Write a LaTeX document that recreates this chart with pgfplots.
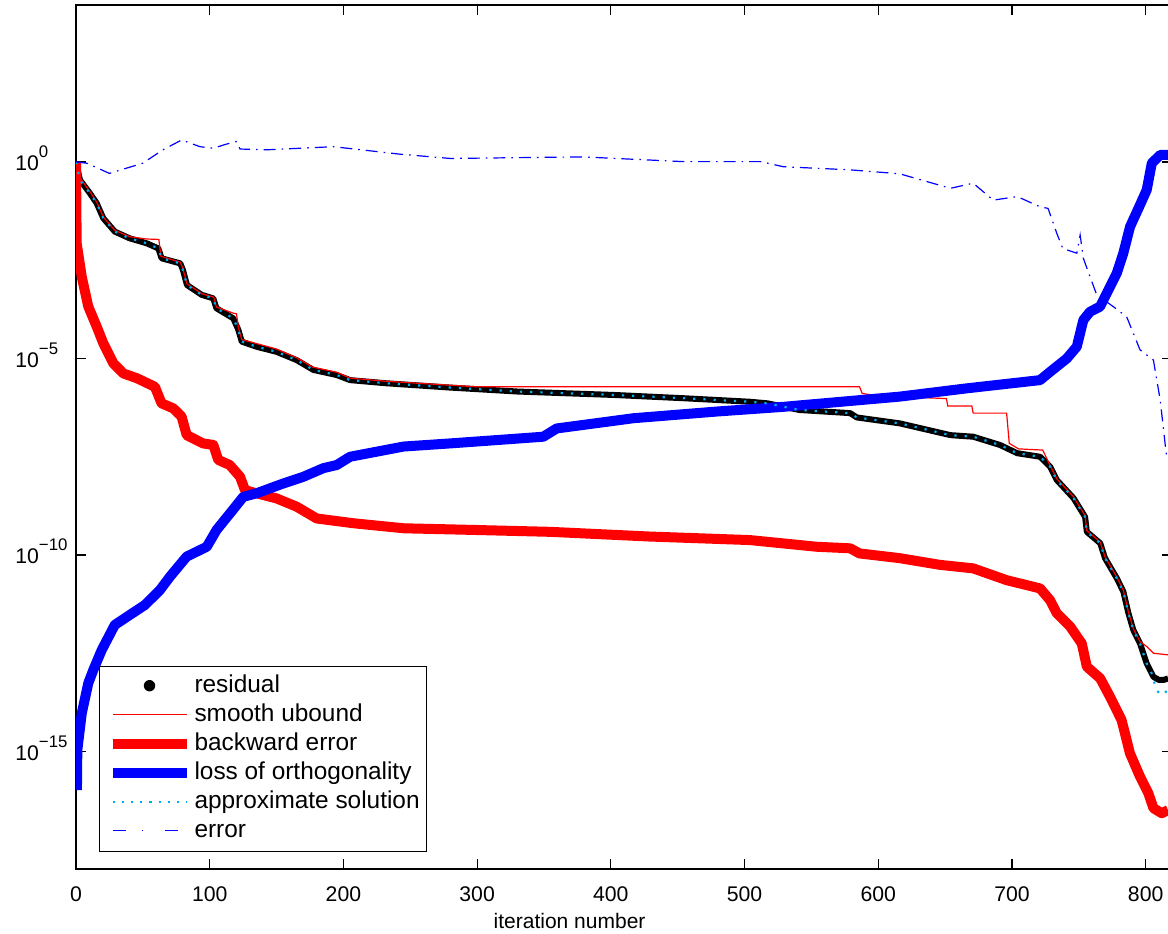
\documentclass[border=0pt]{standalone}
\usepackage{pgfplots}
\pgfplotsset{compat=1.18}
\usepackage{pgfplotstable}
\usepackage{fontspec}
\setmainfont{Liberation Sans}

\newcommand{\legline}[1]{\path (0pt,0.6pt); \draw[#1] (1.5pt,0.6pt) -- (38.5pt,0.6pt); \path (39pt,0.6pt);}
\newcommand{\supx}[1]{\raisebox{6.6pt}{\fontsize{8.4}{10}\selectfont #1}}

\pgfplotstableread{
x y
0 0
3 -0.46
10.5 -0.80
15.5 -1.05
20.4 -1.43
29 -1.77
40 -1.94
53 -2.07
61.6 -2.20
64 -2.45
78 -2.58
80 -2.75
83 -3.13
94 -3.38
102.7 -3.47
105 -3.72
117.7 -3.98
121.4 -4.27
124 -4.57
135 -4.70
150 -4.83
165 -5.04
177.5 -5.29
195 -5.42
205 -5.55
232 -5.63
280 -5.74
330 -5.84
404 -5.93
454 -6.01
504 -6.10
517 -6.14
541 -6.31
579 -6.39
584 -6.50
616 -6.65
654 -6.95
671 -6.99
691 -7.20
704 -7.41
721 -7.50
728.5 -7.75
733.5 -8.09
746 -8.55
754.7 -9.03
756 -9.41
766 -9.70
769.6 -10.08
778.4 -10.59
783.3 -10.93
787.1 -11.48
790.8 -11.91
795.8 -12.25
800.8 -12.76
805.8 -13.10
810 -13.18
813.3 -13.18
816.8 -13.14
}\tres

\pgfplotstableread{
x y
0 0
3 -0.40
10.5 -0.76
15.5 -1.02
20.4 -1.40
29 -1.74
40 -1.90
53 -1.96
62 -1.97
63.5 -2.40
78 -2.55
80 -2.72
83 -3.10
94 -3.35
103 -3.44
105 -3.69
118 -3.85
120 -3.86
121.5 -4.22
124 -4.52
135 -4.62
150 -4.76
165 -4.98
177 -5.22
195 -5.35
205 -5.50
232 -5.58
280 -5.68
300 -5.72
586 -5.72
588 -5.89
600 -5.95
651 -6.02
652 -6.21
670 -6.21
671 -6.39
696 -6.39
698 -7.16
705 -7.30
723 -7.33
728.5 -7.72
733.5 -8.06
746 -8.52
754.7 -9.00
756 -9.38
766 -9.67
769.6 -10.05
778.4 -10.56
783.3 -10.90
787.1 -11.45
790.8 -11.88
795.8 -12.20
800.8 -12.33
805.8 -12.50
816.8 -12.54
}\tub

\pgfplotstableread{
x y
0 0
0.5 -2.07
4.3 -2.92
9.2 -3.68
15.5 -4.19
20.4 -4.61
27.9 -5.12
35.4 -5.38
45.4 -5.50
59 -5.72
64 -6.14
72.8 -6.27
79 -6.48
82.8 -6.95
95 -7.16
102.7 -7.20
106.4 -7.58
115 -7.71
122.7 -8.01
126.4 -8.35
135 -8.43
150 -8.56
165 -8.77
180 -9.07
207 -9.19
245 -9.32
295 -9.36
354.5 -9.41
429 -9.53
504 -9.62
554 -9.79
579 -9.83
586 -9.96
616 -10.08
646 -10.25
671 -10.34
696 -10.64
721 -10.85
728.5 -11.15
733.5 -11.48
743.5 -11.82
752.2 -12.25
756 -12.84
766 -13.14
773.4 -13.61
782 -14.20
788.3 -15.05
795.8 -15.64
802 -16.06
805.8 -16.44
812 -16.57
816.8 -16.49
}\tbe

\pgfplotstableread{
x y
0.7 -15.98
1 -14.96
4.3 -14.03
9.2 -13.26
12.9 -12.93
19.2 -12.42
29 -11.78
40 -11.53
51.6 -11.27
62.8 -10.89
70.3 -10.55
82.8 -10.04
97.8 -9.79
105.2 -9.36
115.2 -8.94
125.1 -8.52
135 -8.43
155 -8.18
170 -8.01
185 -7.79
195 -7.71
205 -7.50
225 -7.37
245 -7.24
280 -7.16
317 -7.07
349.5 -6.99
359.5 -6.78
416.8 -6.52
479 -6.35
529 -6.23
616 -5.97
666 -5.76
721 -5.55
728.5 -5.34
741 -5.00
748.5 -4.70
753.4 -4.02
758.4 -3.81
765.9 -3.68
770.9 -3.34
778.4 -2.83
783.3 -2.32
788.3 -1.65
795.8 -1.09
800.8 -0.71
804.6 -0.03
810.9 0.18
816.8 0.18
}\torth

\pgfplotstableread{
x y
0 0
3 -0.46
10.5 -0.80
15.5 -1.05
20.4 -1.43
29 -1.77
40 -1.94
53 -2.07
61.6 -2.20
64 -2.45
78 -2.58
80 -2.75
83 -3.13
94 -3.38
102.7 -3.47
105 -3.72
117.7 -3.98
121.4 -4.27
124 -4.57
135 -4.70
150 -4.83
165 -5.04
177.5 -5.29
195 -5.42
205 -5.55
232 -5.63
280 -5.74
330 -5.84
404 -5.93
454 -6.01
504 -6.10
517 -6.14
541 -6.31
579 -6.39
584 -6.50
616 -6.65
654 -6.95
671 -6.99
691 -7.20
704 -7.41
721 -7.50
728.5 -7.75
733.5 -8.09
746 -8.55
754.7 -9.03
756 -9.41
766 -9.70
769.6 -10.08
778.4 -10.59
783.3 -10.93
787.1 -11.48
790.8 -11.91
795.8 -12.25
800.8 -12.76
805.8 -13.10
807 -13.35
810.8 -13.56
816.8 -13.45
}\tapp

\pgfplotstableread{
x y
0 0
8 -0.03
25 -0.29
50 -0.03
65 0.31
79 0.56
92.7 0.39
102.7 0.35
112 0.45
120 0.52
122.7 0.33
142.6 0.31
192.5 0.39
242 0.20
280 0.09
379 0.13
454 0.01
512 0.01
529 -0.12
579 -0.20
616 -0.30
654 -0.67
671 -0.54
686 -0.97
704 -0.88
721 -1.14
727 -1.18
733.5 -1.81
738 -2.20
748.5 -2.32
751 -1.86
753.4 -2.45
758.4 -2.92
763.4 -3.38
775.8 -3.68
785.8 -3.94
795.8 -4.78
805.8 -5.04
810.9 -6.06
815.9 -7.58
}\terr

\begin{document}
\begin{tikzpicture}
\useasboundingbox (-38pt,-31.8pt) rectangle (546pt,434.7pt);
\clip (-38pt,-31.8pt) rectangle (546pt,434.7pt);
\begin{axis}[
  at={(0pt,0pt)}, anchor=south west,
  scale only axis, width=548.2pt, height=432.3pt,
  xmin=0, xmax=820,
  ymode=log, ymin=1e-18, ymax=1e4,
  xtick={0,100,...,800},
  ytick={1e-15,1e-10,1e-5,1},
  yticklabels={10\supx{−15},10\supx{−10},10\supx{−5},10\supx{0}},
  yminorticks=false, xminorticks=false,
  tick align=inside, major tick length=5pt,
  every tick/.style={black, line width=0.6pt},
  axis line style={line width=1pt},
  /pgf/number format/assume math mode=true,
  tick label style={font=\fontsize{10.6}{12}\selectfont},
  xticklabel style={anchor=base, yshift=-16pt},
  yticklabel style={anchor=base west, inner xsep=0pt, xshift=-30.5pt, yshift=-4.4pt},
  xlabel={iteration number},
  xlabel style={font=\fontsize{10.5}{12}\selectfont, at={(rel axis cs:0.4502,0)}, anchor=base, yshift=-29.5pt},
  legend cell align=left,
  legend style={at={(0.021,0.0197)}, anchor=south west,
    font=\fontsize{12.2}{14.5}\selectfont, draw=black, line width=0.5pt, fill=white,
    inner xsep=2.5pt, inner ysep=3pt, row sep=0.5pt,
    nodes={inner sep=1pt, text height=9pt, text depth=3pt}},
]
\addplot[black, line width=3pt, line join=round,
  legend image code/.code={\path (0pt,0.6pt); \fill[black] (20pt,0.6pt) circle (1.4pt); \path (39pt,0.6pt);}]
  table[x=x, y expr={10^(\thisrow{y})}] {\tres};
\addlegendentry{residual}
\addplot[red, line width=0.6pt,
  legend image code/.code={\legline{red, line width=0.6pt}}]
  table[x=x, y expr={10^(\thisrow{y})}] {\tub};
\addlegendentry{smooth ubound}
\addplot[red, line width=5pt, line join=round,
  legend image code/.code={\legline{red, line width=5pt}}]
  table[x=x, y expr={10^(\thisrow{y})}] {\tbe};
\addlegendentry{backward error}
\addplot[blue, line width=5pt, line join=round,
  legend image code/.code={\legline{blue, line width=5pt}}]
  table[x=x, y expr={10^(\thisrow{y})}] {\torth};
\addlegendentry{loss of orthogonality}
\addplot[cyan, line width=1.1pt, dash pattern=on 1.1pt off 4pt,
  legend image code/.code={\legline{cyan, line width=1.1pt, dash pattern=on 1.1pt off 3.5pt}}]
  table[x=x, y expr={10^(\thisrow{y})}] {\tapp};
\addlegendentry{approximate solution}
\addplot[blue, line width=0.6pt, dash pattern=on 6pt off 3pt on 0.8pt off 3pt,
  legend image code/.code={\legline{blue, line width=0.6pt, dash pattern=on 6.5pt off 8pt on 0.8pt off 11pt}}]
  table[x=x, y expr={10^(\thisrow{y})}] {\terr};
\addlegendentry{error}
\end{axis}
\end{tikzpicture}
\end{document}
